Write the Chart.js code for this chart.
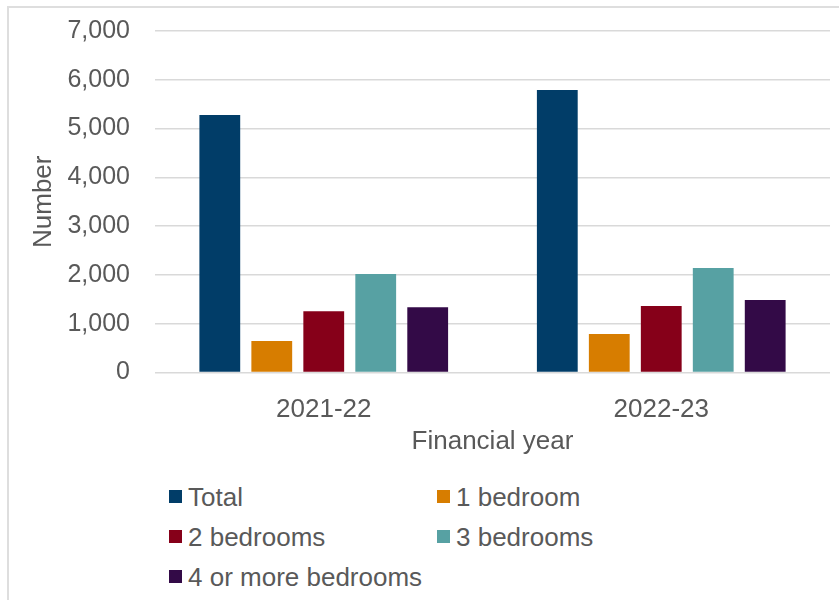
<!DOCTYPE html>
<html>
<head>
<meta charset="utf-8">
<script src="https://cdn.jsdelivr.net/npm/chart.js@4.4.1/dist/chart.umd.min.js"></script>
<style>
  html, body { margin: 0; padding: 0; background: #fff; }
  body { width: 839px; height: 600px; position: relative; overflow: hidden; }
  #frame { position: absolute; left: 7px; top: 6px; width: 900px; height: 700px;
           border-top: 2px solid #dedede; border-left: 2px solid #dedede; }
  #wrap { position: absolute; left: 0; top: 0; width: 839px; height: 460px; }
  #legend { position: absolute; left: 0; top: 0; font-family: 'Liberation Sans', Arial, sans-serif;
            font-size: 26px; color: #595959; }
  .item { position: absolute; height: 30px; line-height: 30px; white-space: nowrap; }
  .swatch { position: absolute; left: 0; top: 8px; width: 13px; height: 13px; }
  .label { position: absolute; left: 19px; top: 0; }
</style>
</head>
<body>
<div id="frame"></div>
<div id="wrap"><canvas id="chart" width="839" height="460"></canvas></div>
<div id="legend"></div>
<script>
const years = ['2021-22', '2022-23'];
const total = [5280, 5790];
const oneBedroom = [645, 790];
const twoBedrooms = [1255, 1365];
const threeBedrooms = [2020, 2140];
const fourPlusBedrooms = [1335, 1485];
const yMax = 7000;
const yStep = 1000;

const grey = '#595959';
Chart.defaults.font.family = "'Liberation Sans', Arial, sans-serif";
Chart.defaults.color = grey;

const series = [
  { label: 'Total', data: total, color: '#013D68' },
  { label: '1 bedroom', data: oneBedroom, color: '#D77D00' },
  { label: '2 bedrooms', data: twoBedrooms, color: '#860019' },
  { label: '3 bedrooms', data: threeBedrooms, color: '#57A1A3' },
  { label: '4 or more bedrooms', data: fourPlusBedrooms, color: '#330A47' },
];

const chart = new Chart(document.getElementById('chart'), {
  type: 'bar',
  data: {
    labels: years,
    datasets: series.map(s => ({
      label: s.label,
      data: s.data,
      backgroundColor: s.color,
      borderWidth: 0,
      categoryPercentage: 0.77,
      barPercentage: 0.785,
    })),
  },
  options: {
    responsive: false,
    animation: false,
    layout: { padding: { top: 31, right: 9, bottom: 0, left: 0 } },
    plugins: {
      legend: { display: false },
      tooltip: { enabled: false },
    },
    scales: {
      x: {
        grid: { display: false },
        border: { display: false },
        ticks: { font: { size: 26 }, padding: 14, color: grey },
        title: { display: true, text: 'Financial year', font: { size: 26 }, color: grey,
                 padding: { top: 0, bottom: 3 } },
        afterFit: scale => { scale.height = 87.5; },
      },
      y: {
        min: 0,
        max: yMax,
        grid: { color: '#d9d9d9', lineWidth: 1.5, drawTicks: false },
        border: { display: false },
        ticks: {
          stepSize: yStep,
          padding: 25,
          font: { size: 25 },
          color: grey,
          callback: v => v.toLocaleString('en-GB'),
        },
        title: { display: true, text: 'Number', font: { size: 26 }, color: grey,
                 padding: { top: 28, bottom: 0 } },
        afterFit: scale => {
          scale.width = 155;
          // labels fit inside the top padding, so no extra room is reserved
          scale.paddingTop = 0;
          scale.paddingBottom = 0;
        },
      },
    },
  },
});

// two-column legend below the plot
const legendPos = [[169, 482], [437, 482], [169, 522], [437, 522], [169, 562]];
const legend = document.getElementById('legend');
chart.data.datasets.forEach((ds, i) => {
  const item = document.createElement('div');
  item.className = 'item';
  item.style.left = legendPos[i][0] + 'px';
  item.style.top = legendPos[i][1] + 'px';
  item.innerHTML = '<span class="swatch" style="background:' + ds.backgroundColor + '"></span>' +
                   '<span class="label">' + ds.label + '</span>';
  legend.appendChild(item);
});
</script>
</body>
</html>
